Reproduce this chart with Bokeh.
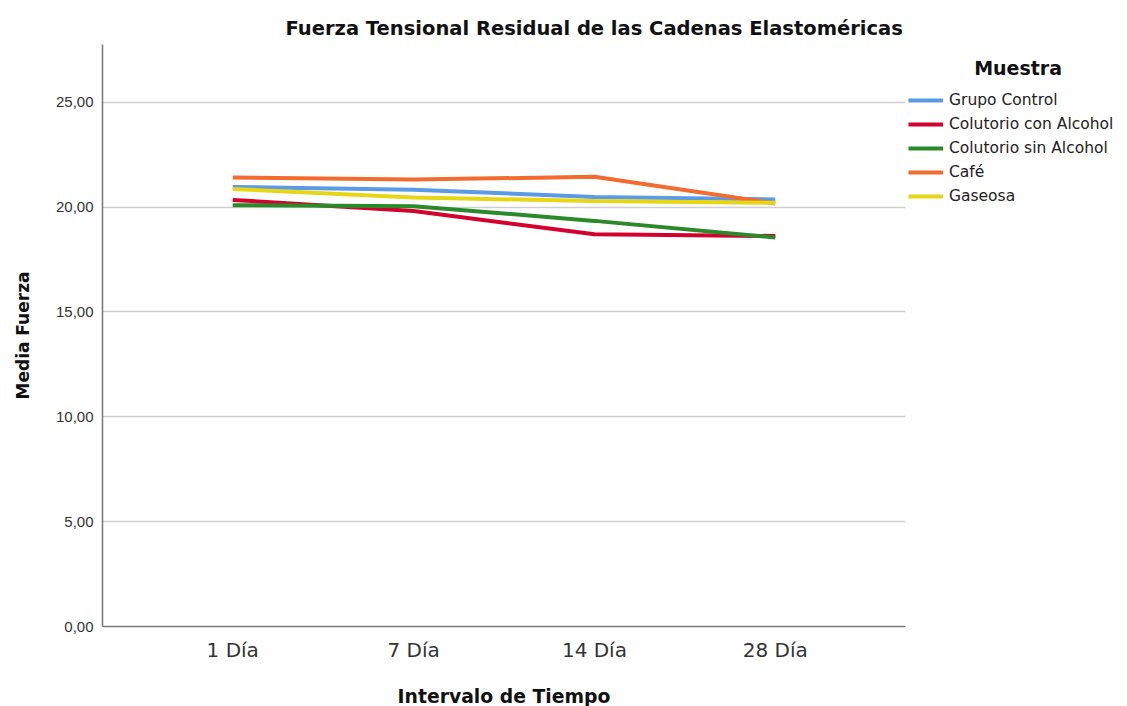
from bokeh.plotting import figure
from bokeh.models import (Range1d, FixedTicker, CustomJSTickFormatter, Legend,
                          LegendItem)
from bokeh.embed import file_html
from bokeh.resources import INLINE

# ---- data ----
categories = ["1 Día", "7 Día", "14 Día", "28 Día"]
grupo_control = [20.96, 20.83, 20.48, 20.36]
colutorio_con_alcohol = [20.34, 19.81, 18.70, 18.62]
colutorio_sin_alcohol = [20.09, 20.04, 19.34, 18.55]
cafe = [21.41, 21.31, 21.44, 20.17]
gaseosa = [20.86, 20.45, 20.29, 20.20]

series_names = ["Grupo Control", "Colutorio con Alcohol", "Colutorio sin Alcohol", "Café", "Gaseosa"]
series_values = [grupo_control, colutorio_con_alcohol, colutorio_sin_alcohol, cafe, gaseosa]
series_colors = ["#5b9be6", "#d4002e", "#2a8a2a", "#f36b2e", "#e6d614"]

y_ticks = [0, 5, 10, 15, 20, 25]

FONT = "DejaVu Sans"
FONT_NUM = "Liberation Sans"
xs = list(range(1, len(categories) + 1))

p = figure(frame_width=803, frame_height=582,
           x_range=Range1d(0.28, 4.72), y_range=Range1d(0, 27.75),
           output_backend="svg", toolbar_location=None,
           min_border_left=102, min_border_top=44, min_border_right=220,
           min_border_bottom=78)
p.outline_line_color = None
p.background_fill_color = "white"

p.title.text = "Fuerza Tensional Residual de las Cadenas Elastoméricas"
p.title.align = "left"
p.title.offset = 183
p.title.text_font = FONT
p.title.text_font_style = "bold"
p.title.text_font_size = "19.5px"
p.title.text_color = "#111111"

# grid
p.xgrid.visible = False
p.ygrid.ticker = FixedTicker(ticks=y_ticks)
p.ygrid.grid_line_color = "#cfcfcf"
p.ygrid.grid_line_width = 1.5

# axes
p.xaxis.ticker = FixedTicker(ticks=xs)
p.xaxis.major_label_overrides = {x: c for x, c in zip(xs, categories)}
p.yaxis.ticker = FixedTicker(ticks=y_ticks)
p.yaxis.formatter = CustomJSTickFormatter(code="return tick.toFixed(2).replace('.', ',');")
for ax in (p.xaxis, p.yaxis):
    ax.major_tick_out = 0
    ax.major_tick_in = 0
    ax.minor_tick_out = 0
    ax.minor_tick_in = 0
    ax.axis_line_color = "#777777"
    ax.axis_line_width = 1.5
    ax.major_label_text_color = "#333333"
    ax.axis_label_text_font = FONT
    ax.axis_label_text_font_style = "bold"
    ax.axis_label_text_color = "#111111"

p.xaxis.major_label_text_font = FONT
p.xaxis.major_label_text_font_size = "20px"
p.xaxis.major_label_standoff = 11
p.xaxis.axis_label = "Intervalo de Tiempo"
p.xaxis.axis_label_text_font_size = "18.8px"
p.xaxis.axis_label_standoff = 21
p.yaxis.major_label_text_font = FONT_NUM
p.yaxis.major_label_text_font_size = "15px"
p.yaxis.major_label_standoff = 9
p.yaxis.axis_label = "Media Fuerza"
p.yaxis.axis_label_text_font_size = "17px"
p.yaxis.axis_label_standoff = 20

items = []
for name, vals, col in zip(series_names, series_values, series_colors):
    r = p.line(xs, vals, line_color=col, line_width=4)
    items.append(LegendItem(label=name, renderers=[r]))

legend = Legend(items=items, location=(0, 415), padding=3, margin=0,
                spacing=0, label_height=24, glyph_height=24, glyph_width=35,
                label_standoff=6, label_text_font=FONT,
                label_text_font_size="15.5px", label_text_color="#222222",
                title="\u00a0" * 10 + "Muestra", title_text_font=FONT,
                title_text_font_style="bold", title_text_font_size="19px",
                title_text_color="#111111", title_standoff=9,
                border_line_alpha=0, background_fill_alpha=0)
p.add_layout(legend, "right")

open("out.html", "w").write(file_html(p, INLINE))
